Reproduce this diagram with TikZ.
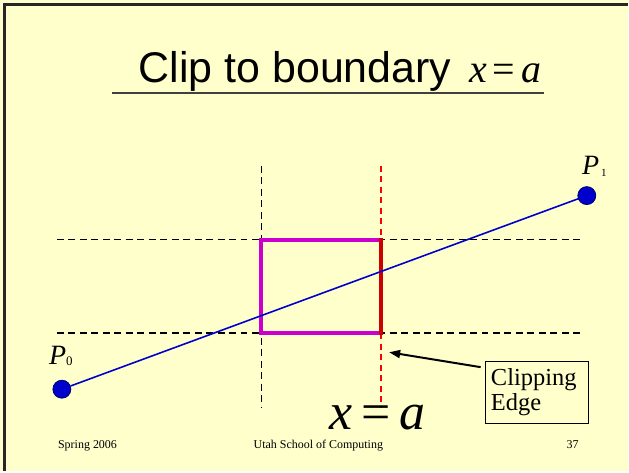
\documentclass[tikz,border=0pt]{standalone}
\usepackage{fontspec}
\setmainfont{Liberation Serif}
\newfontfamily\titlefont{Liberation Sans}
\usepackage{tikz}
\usetikzlibrary{positioning,arrows.meta,calc}
\definecolor{slidebg}{HTML}{FFFFCC}
\definecolor{clipblue}{HTML}{0000CC}
\definecolor{clipmagenta}{HTML}{CC00CC}
\definecolor{clipred}{HTML}{CC0000}
\definecolor{edgered}{HTML}{FF0000}

\begin{document}
\begin{tikzpicture}[x=1pt, y=-1pt,
    guide/.style={dash pattern=on 7pt off 4.5pt, line width=1.8pt},
    edgeguide/.style={edgered, dash pattern=on 6pt off 4.5pt, line width=1.7pt},
    endpt/.style={circle, draw=black!60!blue, fill=clipblue, minimum size=18pt,
                  inner sep=0pt, line width=0.8pt},
    ptlabel/.style={font=\fontsize{28}{30}\selectfont, inner sep=0pt, anchor=base west},
    eqn/.style={font=\fontsize{52}{56}\selectfont, inner sep=0pt, anchor=base west},
    foot/.style={font=\fontsize{12}{14}\selectfont, inner sep=0pt},
    callout/.style={draw, line width=0.9pt, minimum width=104pt, minimum height=62pt,
                    text width=92pt, inner sep=6pt, align=left,
                    font=\fontsize{24.5}{25}\selectfont},
  ]
  % slide background and frame
  \fill[slidebg] (0,0) rectangle (629,472);
  \draw[line width=2.6pt, black!85] (4.3,472) -- (4.3,4.3) -- (629,4.3);

  % title
  \node[anchor=base west, inner sep=0pt, font=\titlefont\fontsize{43}{50}\selectfont]
    (title) at (139,83) {Clip to boundary};
  \node[anchor=base west, inner sep=0pt, font=\fontsize{40}{46}\selectfont]
    (titleeq) at (470,83) {\textit{x}\hspace{6pt}=\hspace{6pt}\textit{a}};
  \draw[line width=2pt, black!75] (112,93) -- (545,93);

  % window boundaries
  \draw[guide] (57,240) -- (584,240);
  \draw[guide] (57,334) -- (584,334);
  \draw[guide] (262,166) -- (262,408);
  \draw[edgeguide] (382,166) -- (382,408);

  % clip window
  \draw[clipmagenta, line width=4pt] (262,240) rectangle (382,334);
  \draw[clipred, line width=4.5pt] (382,238) -- (382,336);

  % the line segment
  \node[endpt] (p0) at (62,390) {};
  \node[endpt] (p1) at (588,196) {};
  \draw[clipblue, line width=1.6pt] (p0) -- (p1);
  \node[ptlabel] (p0lbl) at (49,365) {\textit{P}\raisebox{-1pt}{\fontsize{13}{14}\selectfont 0}};
  \node[ptlabel] (p1lbl) at (583,175) {\textit{P}\hspace{2pt}\raisebox{-2pt}{\fontsize{11}{14}\selectfont 1}};

  \node[eqn] (edgeeq) at (330,430) {\textit{x}\hspace{9pt}=\hspace{9pt}\textit{a}};

  % callout
  \node[callout] (clip) at (538,393) {Clipping\\Edge};
  \coordinate (edgept) at (390,353);
  \draw[-{Triangle[length=11pt,width=8pt]}, line width=2pt, shorten <=4pt] (clip.155) -- (edgept);

  % footer
  \node[foot, anchor=base west] (season) at (58,449) {Spring 2006};
  \node[foot, anchor=base] (school) at (319,449) {Utah School of Computing};
  \node[foot, anchor=base east] (pageno) at (580,449) {37};
\end{tikzpicture}
\end{document}
